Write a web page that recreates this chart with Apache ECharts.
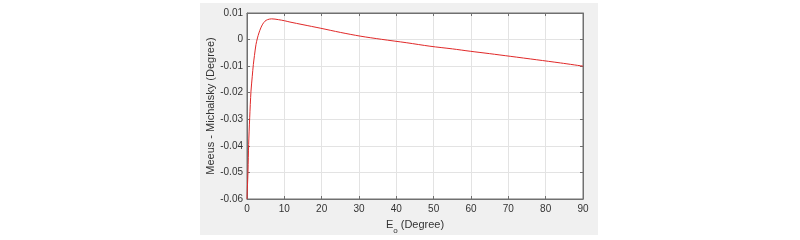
<!DOCTYPE html>
<html>
<head>
<meta charset="utf-8">
<script src="https://cdn.jsdelivr.net/npm/echarts@6/dist/echarts.min.js"></script>
<style>html,body{margin:0;padding:0;background:#fff;}#c{width:800px;height:240px;}</style>
</head>
<body>
<div id="c"></div>
<script>
const elevation = [0, 0.1, 0.27, 0.44, 0.72, 1.07, 1.4, 1.7, 2.0, 2.4, 2.8, 3.2, 3.7, 4.2, 4.8, 5.5, 6.6, 7.5, 8.4, 10, 11.5, 15, 19.6, 25, 30.3, 36, 42.8, 49, 55, 59.8, 65, 70.5, 77.6, 84, 90];
const difference = [-0.06, -0.056, -0.0495, -0.0395, -0.0294, -0.0194, -0.0140, -0.0094, -0.0060, -0.0019, 0.0006, 0.0025, 0.0044, 0.0058, 0.0069, 0.0075, 0.0078, 0.0077, 0.0075, 0.0071, 0.0066, 0.0056, 0.0043, 0.0027, 0.0013, 0.0001, -0.0012, -0.0025, -0.0035, -0.0044, -0.0053, -0.0063, -0.0076, -0.0088, -0.0100];
const xTicks = [0, 10, 20, 30, 40, 50, 60, 70, 80, 90];
const yTicks = [-0.06, -0.05, -0.04, -0.03, -0.02, -0.01, 0, 0.01];

const chart = echarts.init(document.getElementById('c'), null, {renderer: 'canvas'});
const axisCol = '#707070';
const labelCol = '#333';
const font = 'Liberation Sans, Arial, sans-serif';
const fmtY = v => String(Number(v.toFixed(2)));
chart.setOption({
  animation: false,
  backgroundColor: '#ffffff',
  graphic: [{type: 'rect', z: -10, shape: {x: 200, y: 3, width: 398, height: 232}, style: {fill: '#f0f0f0'}}],
  grid: {left: 247, right: 217, top: 13, bottom: 41, show: true, backgroundColor: '#fff', borderColor: axisCol, borderWidth: 1},
  xAxis: [{
    type: 'value', min: xTicks[0], max: xTicks[xTicks.length - 1], interval: 10,
    axisLine: {show: true, onZero: false, lineStyle: {color: axisCol}},
    axisTick: {show: true, inside: true, length: 3, lineStyle: {color: axisCol}},
    axisLabel: {color: labelCol, fontSize: 10, fontFamily: font, margin: 5},
    splitLine: {show: true, lineStyle: {color: '#e3e3e3'}},
    name: '{e|E}{o|o} (Degree)', nameLocation: 'middle', nameGap: 20,
    nameTextStyle: {color: labelCol, fontSize: 11, fontFamily: font,
      rich: {e: {fontSize: 11, fontFamily: font, color: labelCol}, o: {fontSize: 8, fontFamily: font, color: labelCol, verticalAlign: 'bottom', padding: [0,0,-5,0]}}}
  }, {
    type: 'value', position: 'top', min: 0, max: 90, interval: 10,
    axisLine: {show: true, onZero: false, lineStyle: {color: axisCol}},
    axisTick: {show: true, inside: true, length: 3, lineStyle: {color: axisCol}},
    axisLabel: {show: false}, splitLine: {show: false}
  }],
  yAxis: [{
    type: 'value', min: yTicks[0], max: yTicks[yTicks.length - 1], interval: 0.01,
    axisLine: {show: true, onZero: false, lineStyle: {color: axisCol}},
    axisTick: {show: true, inside: true, length: 3, lineStyle: {color: axisCol}},
    axisLabel: {color: labelCol, fontSize: 10, fontFamily: font, margin: 4, formatter: fmtY},
    splitLine: {show: true, lineStyle: {color: '#e3e3e3'}},
    name: 'Meeus - Michalsky (Degree)', nameLocation: 'middle', nameGap: 30,
    nameTextStyle: {color: labelCol, fontSize: 11, fontFamily: font}
  }, {
    type: 'value', position: 'right', min: -0.06, max: 0.01, interval: 0.01,
    axisLine: {show: true, onZero: false, lineStyle: {color: axisCol}},
    axisTick: {show: true, inside: true, length: 3, lineStyle: {color: axisCol}},
    axisLabel: {show: false}, splitLine: {show: false}
  }],
  series: [{
    type: 'line', xAxisIndex: 0, yAxisIndex: 0, showSymbol: false, smooth: 0.3,
    lineStyle: {color: '#e02828', width: 1},
    data: elevation.map((e, i) => [e, difference[i]])
  }]
});
</script>
</body>
</html>
